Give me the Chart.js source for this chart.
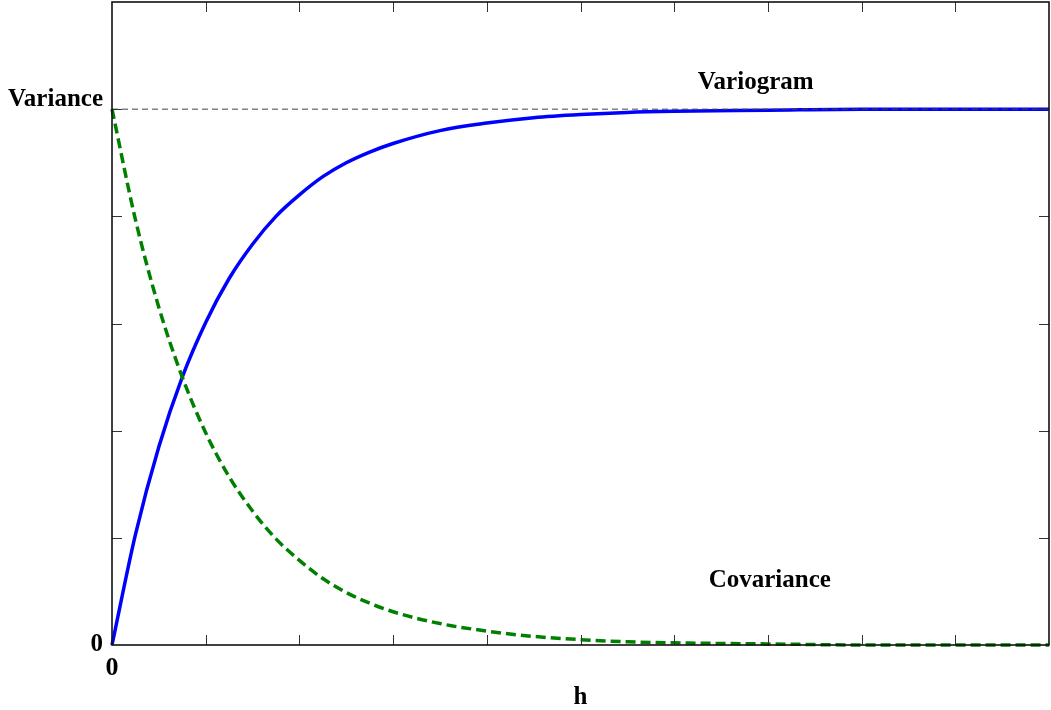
<!DOCTYPE html>
<html>
<head>
<meta charset="utf-8">
<script src="https://cdn.jsdelivr.net/npm/chart.js@4/dist/chart.umd.min.js"></script>
<style>
    html, body { margin: 0; padding: 0; background: #fff; }
    #wrap { width: 1051px; height: 710px; }
</style>
</head>
<body>
<div id="wrap"><canvas id="chart"></canvas></div>
<script>
// lag distances h and the two curves
const lags = [0, 0.25, 0.5, 0.75, 1, 1.25, 1.5, 1.75, 2, 2.25, 2.5, 2.75, 3, 3.5, 4, 4.5, 5, 5.5, 6, 7, 8, 9, 10];
const variogram = [0, 1.03, 1.85, 2.5, 3.01, 3.42, 3.74, 4.0, 4.2, 4.37, 4.5, 4.6, 4.68, 4.8, 4.87, 4.92, 4.95, 4.97, 4.98, 4.99, 5, 5, 5];
const covariance = [5, 3.97, 3.15, 2.5, 1.98, 1.57, 1.25, 0.99, 0.79, 0.62, 0.49, 0.39, 0.31, 0.2, 0.13, 0.08, 0.05, 0.03, 0.02, 0.01, 0, 0, 0];
const sill = 5;
const xRange = [0, 10];
const yRange = [0, 6];

// text labels placed at data coordinates
const curveLabels = [
    { text: 'Variogram', h: 6.87, v: 5.25 },
    { text: 'Covariance', h: 7.02, v: 0.6 }
];

const serif = '"Liberation Serif", "Times New Roman", serif';

const toPoints = (ys) => lags.map((h, i) => ({ x: h, y: ys[i] }));

// frame, inward ticks on all four sides, and the curve labels
const framePlugin = {
    id: 'frame',
    afterDraw(chart) {
        const { ctx, chartArea: a, scales: { x, y } } = chart;
        ctx.save();
        ctx.strokeStyle = '#333';
        ctx.lineWidth = 1;
        x.ticks.forEach((t) => {
            if (t.value <= xRange[0] || t.value >= xRange[1]) return;
            const px = Math.round(x.getPixelForValue(t.value)) + 0.5;
            ctx.beginPath();
            ctx.moveTo(px, a.bottom); ctx.lineTo(px, a.bottom - 10);
            ctx.moveTo(px, a.top); ctx.lineTo(px, a.top + 10);
            ctx.stroke();
        });
        y.ticks.forEach((t) => {
            if (t.value <= yRange[0] || t.value >= yRange[1]) return;
            const py = Math.round(y.getPixelForValue(t.value)) + 0.5;
            ctx.beginPath();
            ctx.moveTo(a.left, py); ctx.lineTo(a.left + 10, py);
            ctx.moveTo(a.right, py); ctx.lineTo(a.right - 10, py);
            ctx.stroke();
        });
        ctx.strokeStyle = '#111';
        ctx.lineWidth = 1.6;
        ctx.strokeRect(a.left, a.top, a.right - a.left, a.bottom - a.top);

        ctx.fillStyle = '#000';
        ctx.font = 'bold 25px ' + serif;
        ctx.textAlign = 'center';
        ctx.textBaseline = 'middle';
        curveLabels.forEach((l) => {
            ctx.fillText(l.text, x.getPixelForValue(l.h), y.getPixelForValue(l.v));
        });
        ctx.restore();
    }
};

new Chart(document.getElementById('chart'), {
    type: 'line',
    data: {
        datasets: [
            {
                label: 'Variance',
                data: [{ x: xRange[0], y: sill }, { x: xRange[1], y: sill }],
                borderColor: '#444',
                borderWidth: 1,
                borderDash: [6, 4],
                pointRadius: 0
            },
            {
                label: 'Covariance',
                data: toPoints(covariance),
                borderColor: '#008000',
                borderWidth: 3.5,
                borderDash: [10, 5],
                cubicInterpolationMode: 'monotone',
                pointRadius: 0,
                clip: 5
            },
            {
                label: 'Variogram',
                data: toPoints(variogram),
                borderColor: '#0000ff',
                borderWidth: 3.5,
                cubicInterpolationMode: 'monotone',
                pointRadius: 0,
                clip: 5
            }
        ]
    },
    options: {
        responsive: true,
        maintainAspectRatio: false,
        animation: false,
        layout: { padding: { top: 2, right: 2, left: 0, bottom: 0 } },
        plugins: {
            legend: { display: false },
            tooltip: { enabled: false }
        },
        scales: {
            x: {
                type: 'linear',
                min: xRange[0],
                max: xRange[1],
                grid: { display: false, drawTicks: false },
                border: { display: false },
                ticks: {
                    stepSize: 1,
                    padding: 8,
                    color: '#000',
                    font: { family: serif, size: 26, weight: 'bold' },
                    callback: (v) => (v === 0 ? '0' : '')
                },
                title: {
                    display: true,
                    text: 'h',
                    color: '#000',
                    font: { family: serif, size: 25, weight: 'bold', lineHeight: 1 },
                    padding: 0
                },
                afterFit: (scale) => {
                    scale.height = 65;
                    scale.paddingLeft = 0;
                    scale.paddingRight = 0;
                }
            },
            y: {
                type: 'linear',
                min: yRange[0],
                max: yRange[1],
                grid: { display: false, drawTicks: false },
                border: { display: false },
                ticks: {
                    stepSize: 1,
                    padding: 9,
                    color: '#000',
                    font: { family: serif, size: 25, weight: 'bold', lineHeight: 0.8 },
                    callback: (v) => (v === 0 ? '0' : v === sill ? ['Variance', ''] : '')
                },
                afterFit: (scale) => {
                    scale.width = 112;
                    scale.paddingTop = 0;
                    scale.paddingBottom = 0;
                }
            }
        }
    },
    plugins: [framePlugin]
});
</script>
</body>
</html>
